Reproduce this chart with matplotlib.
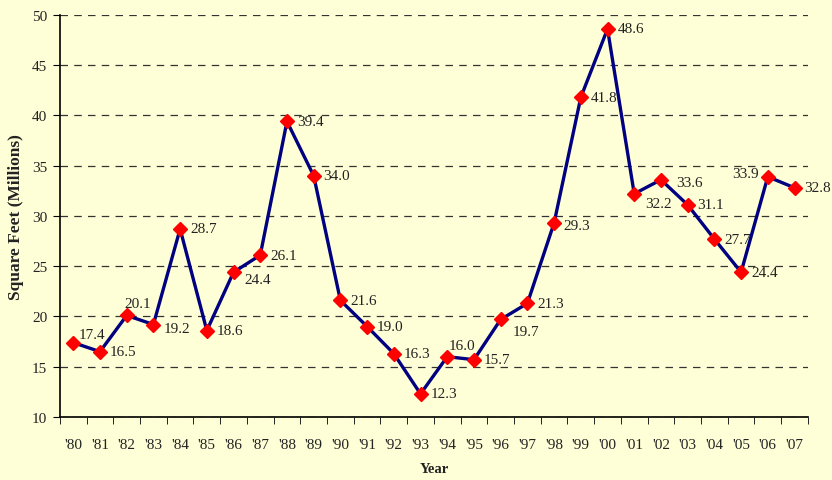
import matplotlib
matplotlib.use('Agg')
import matplotlib.pyplot as plt

years = ["'80", "'81", "'82", "'83", "'84", "'85", "'86", "'87", "'88", "'89",
         "'90", "'91", "'92", "'93", "'94", "'95", "'96", "'97", "'98", "'99",
         "'00", "'01", "'02", "'03", "'04", "'05", "'06", "'07"]
sq_feet = [17.4, 16.5, 20.1, 19.2, 28.7, 18.6, 24.4, 26.1, 39.4, 34.0,
           21.6, 19.0, 16.3, 12.3, 16.0, 15.7, 19.7, 21.3, 29.3, 41.8,
           48.6, 32.2, 33.6, 31.1, 27.7, 24.4, 33.9, 32.8]

# label offsets in pixels (dx, dy) and horizontal alignment
offsets = {0: (5, 8, 'left'), 2: (-2, 12, 'left'), 3: (10, -4, 'left'),
           6: (11, -7, 'left'), 14: (1, 11, 'left'), 16: (12, -12, 'left'),
           18: (9, -3, 'left'), 21: (11, -10, 'left'), 22: (15, -3, 'left'),
           26: (-9, 3, 'right')}

bg = '#FFFFD7'
txt = '#222222'
plt.rcParams['font.family'] = ['Liberation Serif', 'DejaVu Serif']

fig = plt.figure(figsize=(8.32, 4.81), dpi=100, facecolor=bg)
ax = fig.add_axes([0.072, 0.131, 0.899, 0.836])
ax.set_facecolor(bg)

x = list(range(len(years)))
ax.plot(x, sq_feet, color='#000080', lw=2.4, marker='D', ms=7.5,
        mfc='#FF0000', mec='#FF0000', zorder=3)

for i, v in enumerate(sq_feet):
    dx, dy, ha = offsets.get(i, (10, 0, 'left'))
    ax.annotate(f'{v:.1f}', (i, v), xytext=(dx, dy), textcoords='offset pixels',
                ha=ha, va='center', fontsize=11, color=txt)

ax.set_xlim(-0.5, len(years) - 0.5)
ax.set_ylim(10, 50)
ax.set_yticks(range(10, 51, 5))
ax.set_xticks(x)
ax.set_xticklabels(years)
ax.set_xticks([i + 0.5 for i in range(-1, len(years))], minor=True)
ax.tick_params(axis='x', which='major', length=0, pad=15, labelsize=11, labelcolor=txt)
ax.tick_params(axis='x', which='minor', length=5, direction='out', color='black')
ax.tick_params(axis='y', length=5, labelsize=11, labelcolor=txt, pad=4)

ax.grid(axis='y', linestyle=(0, (6, 5)), color='#333333', lw=0.9)
ax.set_axisbelow(True)
for s in ['top', 'right']:
    ax.spines[s].set_visible(False)
ax.spines['left'].set_linewidth(1.2)
ax.spines['bottom'].set_linewidth(1.2)

ax.set_xlabel('Year', fontsize=10.5, fontweight='bold', color=txt, labelpad=8)
ax.set_ylabel('Square Feet (Millions)', fontsize=12.5, fontweight='bold', color=txt, labelpad=6)

fig.savefig('out.png', dpi=100, facecolor=bg)
